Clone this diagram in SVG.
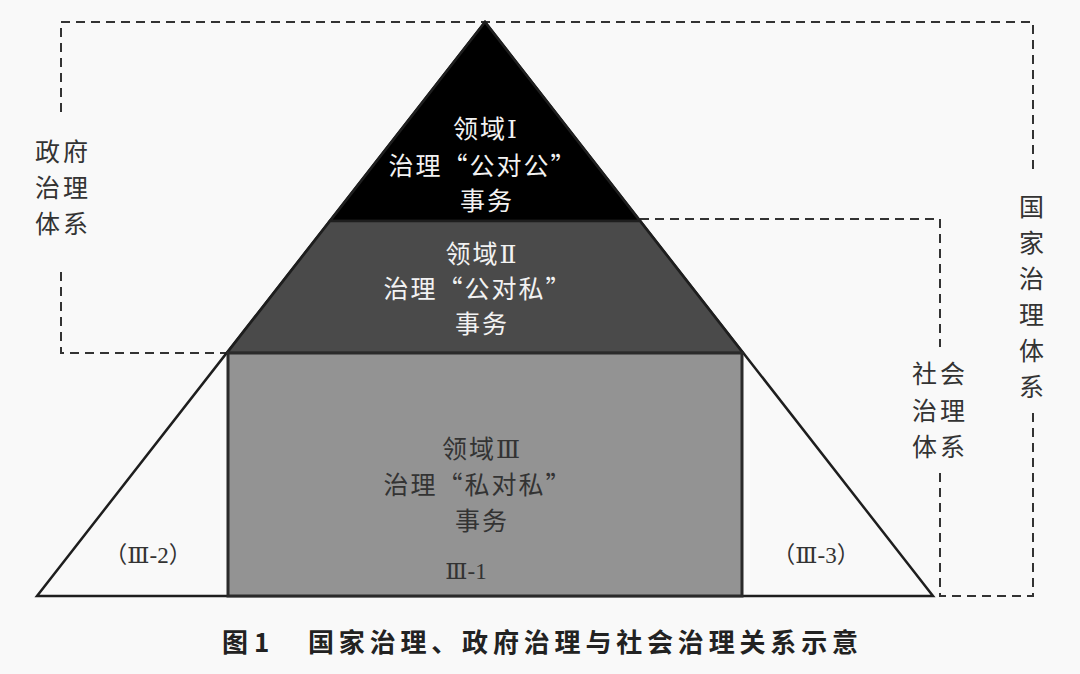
<svg xmlns="http://www.w3.org/2000/svg" width="1080" height="674" viewBox="0 0 1080 674">
<style>
.t{font-family:"Noto Sans CJK SC","Noto Sans CJK TC",sans-serif;font-size:25px;text-anchor:middle;letter-spacing:2px}
.w{fill:#f2f2f2}
.d{fill:#333333}
.lab{font-family:"Noto Sans CJK SC",sans-serif;font-size:25px;fill:#333333;text-anchor:middle;letter-spacing:3px}
.sub{font-family:"Noto Sans CJK SC",sans-serif;font-size:23px;fill:#333333;text-anchor:middle}
.num{font-family:"Liberation Serif",serif}
.rn{font-family:"DejaVu Serif","Liberation Serif",serif;font-weight:normal}
.dash{fill:none;stroke:#333333;stroke-width:2;stroke-dasharray:9 6}
.edge{stroke:#1e1e1e;stroke-width:2.5;stroke-linejoin:miter}
.cap{font-family:"Noto Sans CJK SC",sans-serif;font-size:26px;font-weight:bold;fill:#222222}
</style>
<rect x="0" y="0" width="1080" height="674" fill="#f9f9f9"/>
<g id="connectors">
<path class="dash" d="M61,112 V22 H1033 V173"/>
<path class="dash" d="M61,272 V353 H227"/>
<path class="dash" d="M640,219 H940 V347"/>
<path class="dash" d="M940,473 V596 H1033 V408"/>
</g>
<g id="pyramid">
<polygon class="edge" points="485,22 37,596 933,596" fill="#f9f9f9"/>
</g>
<g id="domain1">
<polygon class="edge" points="485,22 330,221 640,221" fill="#000000"/>
<text class="t w" x="486" y="138">领域<tspan class="rn">Ⅰ</tspan></text>
<text class="t w" x="483" y="175">治理“公对公”</text>
<text class="t w" x="487" y="210">事务</text>
</g>
<g id="domain2">
<polygon class="edge" points="330,221 640,221 743,353 227,353" fill="#4a4a4a"/>
<text class="t w" x="482" y="263">领域<tspan class="rn">Ⅱ</tspan></text>
<text class="t w" x="478" y="298">治理“公对私”</text>
<text class="t w" x="482" y="333">事务</text>
</g>
<g id="domain3">
<rect x="228" y="353" width="514" height="243" fill="#939393" stroke="#2a2a2a" stroke-width="3"/>
<text class="t d" x="482" y="458">领域<tspan class="rn">Ⅲ</tspan></text>
<text class="t d" x="478" y="494">治理“私对私”</text>
<text class="t d" x="482" y="530">事务</text>
<text class="sub" x="466" y="579"><tspan class="rn">Ⅲ</tspan><tspan class="num">-1</tspan></text>
</g>
<g id="sub2">
<text class="sub" x="148" y="563">（<tspan class="rn">Ⅲ</tspan><tspan class="num">-2</tspan>）</text>
</g>
<g id="sub3">
<text class="sub" x="816" y="563">（<tspan class="rn">Ⅲ</tspan><tspan class="num">-3</tspan>）</text>
</g>
<g id="gov-label">
<text class="lab" x="63" y="161">政府</text>
<text class="lab" x="63" y="197">治理</text>
<text class="lab" x="63" y="233">体系</text>
</g>
<g id="society-label">
<text class="lab" x="940" y="383">社会</text>
<text class="lab" x="940" y="420">治理</text>
<text class="lab" x="940" y="456">体系</text>
</g>
<g id="nation-label">
<text class="lab" x="1033" y="216">国</text>
<text class="lab" x="1033" y="252">家</text>
<text class="lab" x="1033" y="288">治</text>
<text class="lab" x="1033" y="324">理</text>
<text class="lab" x="1033" y="360">体</text>
<text class="lab" x="1033" y="396">系</text>
</g>
<g id="caption">
<text class="cap" x="222" y="652">图 1</text>
<text class="cap" x="308" y="652" textLength="550" lengthAdjust="spacing">国家治理、政府治理与社会治理关系示意</text>
</g>
</svg>
